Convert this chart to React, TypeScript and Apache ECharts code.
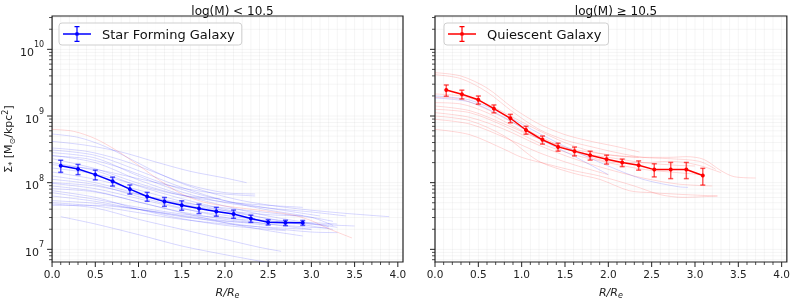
import React, { useEffect, useRef } from 'react';
import * as echarts from 'echarts';

// Mean profiles (R/Re, Σ* in Msun/kpc^2, symmetric error)
const sfR = [0.1, 0.3, 0.5, 0.7, 0.9, 1.1, 1.3, 1.5, 1.7, 1.9, 2.1, 2.3, 2.5, 2.7, 2.9];
const sfSigma = [1.8e8, 1.6e8, 1.32e8, 1.05e8, 8.0e7, 6.2e7, 5.2e7, 4.6e7, 4.1e7, 3.7e7, 3.4e7, 2.9e7, 2.55e7, 2.5e7, 2.5e7];
const sfErr = [3.7e7, 2.8e7, 2.2e7, 1.6e7, 1.25e7, 9.4e6, 7.9e6, 7.4e6, 6.6e6, 5.6e6, 4.8e6, 3.6e6, 2.3e6, 2.3e6, 2.1e6];

const qR = [0.13, 0.31, 0.5, 0.68, 0.87, 1.05, 1.24, 1.42, 1.61, 1.79, 1.98, 2.16, 2.35, 2.53, 2.72, 2.9, 3.09];
const qSigma = [2.45e9, 2.12e9, 1.75e9, 1.29e9, 9.25e8, 6.17e8, 4.4e8, 3.44e8, 2.97e8, 2.57e8, 2.24e8, 2.0e8, 1.83e8, 1.57e8, 1.58e8, 1.58e8, 1.28e8];
const qErr = [4.7e8, 3.2e8, 2.45e8, 1.75e8, 1.34e8, 8.4e7, 6.1e7, 4.7e7, 4.5e7, 3.9e7, 3.4e7, 2.6e7, 2.9e7, 3.5e7, 4.3e7, 4.3e7, 3.6e7];

// Individual galaxy profiles: [R/Re, log10 Σ*]
const lowBlueProfiles: number[][][] = [
  [[0, 8.73], [0.3, 8.68], [0.6, 8.55], [0.9, 8.36], [1.2, 8.16], [1.5, 7.99], [1.8, 7.86], [2.2, 7.73], [2.7, 7.63], [3.3, 7.55], [3.9, 7.49]],
  [[0, 8.62], [0.4, 8.56], [0.8, 8.46], [1.2, 8.31], [1.6, 8.17], [2.0, 8.07], [2.25, 8.0]],
  [[0, 8.52], [0.4, 8.47], [0.8, 8.34], [1.2, 8.15], [1.6, 7.96], [2.0, 7.85], [2.35, 7.83]],
  [[0, 8.49], [0.5, 8.41], [1.0, 8.18], [1.5, 7.93], [2.0, 7.73], [2.5, 7.59], [3.0, 7.48], [3.25, 7.36]],
  [[0, 8.45], [0.5, 8.37], [1.0, 8.1], [1.5, 7.86], [2.0, 7.7], [2.5, 7.62], [3.0, 7.56], [3.4, 7.5]],
  [[0, 8.41], [0.5, 8.3], [1.0, 8.04], [1.5, 7.82], [2.0, 7.65], [2.5, 7.5], [3.0, 7.39], [3.3, 7.33]],
  [[0, 8.36], [0.5, 8.21], [1.0, 7.99], [1.5, 7.81], [2.0, 7.71], [2.5, 7.66], [2.9, 7.63]],
  [[0, 8.3], [0.5, 8.18], [1.0, 7.95], [1.5, 7.76], [2.0, 7.6], [2.5, 7.46], [3.0, 7.35], [3.25, 7.3]],
  [[0, 8.22], [0.5, 8.13], [1.0, 7.96], [1.5, 7.81], [1.95, 7.76]],
  [[0, 8.16], [0.5, 8.05], [1.0, 7.89], [1.5, 7.72], [2.0, 7.58], [2.5, 7.46], [3.0, 7.38], [3.2, 7.34]],
  [[0, 8.1], [0.5, 8.0], [1.0, 7.83], [1.5, 7.68], [2.0, 7.58], [2.5, 7.52], [2.9, 7.5]],
  [[0, 8.05], [0.5, 7.97], [1.0, 7.79], [1.5, 7.62], [2.0, 7.48], [2.5, 7.38], [3.0, 7.3]],
  [[0, 7.99], [0.5, 7.91], [1.0, 7.76], [1.5, 7.61], [2.0, 7.51], [2.5, 7.43], [3.0, 7.38], [3.5, 7.35]],
  [[0, 7.95], [0.5, 7.87], [1.0, 7.71], [1.5, 7.55], [2.0, 7.4], [2.5, 7.28], [2.9, 7.2]],
  [[0, 7.91], [0.5, 7.86], [1.0, 7.71], [1.5, 7.56], [2.0, 7.45], [2.5, 7.38], [3.0, 7.33], [3.2, 7.32]],
  [[0, 7.88], [0.5, 7.78], [1.0, 7.6], [1.5, 7.46], [2.0, 7.36], [2.5, 7.3], [2.7, 7.28]],
  [[0, 7.85], [0.5, 7.75], [1.0, 7.63], [1.5, 7.53], [2.0, 7.47], [2.5, 7.42], [3.0, 7.4], [3.3, 7.38]],
  [[0, 7.8], [0.5, 7.72], [1.0, 7.6], [1.5, 7.49], [2.0, 7.42], [2.4, 7.4]],
  [[0, 7.73], [0.5, 7.69], [1.0, 7.6], [1.5, 7.5], [2.0, 7.4], [2.5, 7.32], [3.0, 7.26], [3.3, 7.25]],
  [[0, 7.7], [0.5, 7.65], [1.0, 7.55], [1.5, 7.45], [2.0, 7.38], [2.5, 7.33], [3.0, 7.3]],
  [[0, 7.66], [0.5, 7.66], [1.0, 7.6], [1.5, 7.51], [2.0, 7.43], [2.5, 7.36]],
  [[0, 7.68], [0.5, 7.62], [1.0, 7.45], [1.5, 7.3], [2.0, 7.15], [2.4, 7.03], [2.65, 6.97]],
  [[0.1, 7.49], [0.5, 7.38], [1.0, 7.22], [1.5, 7.05], [2.0, 6.92], [2.5, 6.8]],
  [[0, 8.27], [0.5, 8.2], [1.0, 8.06], [1.5, 7.92], [1.9, 7.84], [2.35, 7.8]],
  [[0, 8.4], [0.4, 8.36], [0.8, 8.22], [1.2, 8.03], [1.6, 7.86], [2.0, 7.73], [2.4, 7.64], [2.8, 7.56], [3.1, 7.5]],
  [[0, 8.0], [0.5, 7.95], [1.0, 7.82], [1.5, 7.7], [2.0, 7.62], [2.5, 7.55], [3.0, 7.48], [3.25, 7.42]],
];
const lowRedProfiles: number[][][] = [
  [[0, 8.8], [0.25, 8.77], [0.5, 8.66], [0.75, 8.48], [1.0, 8.26], [1.25, 8.03], [1.5, 7.83], [1.75, 7.71], [2.0, 7.65], [2.5, 7.57], [2.8, 7.51], [3.0, 7.43], [3.2, 7.31], [3.47, 7.17]],
];
const highRedProfiles: number[][][] = [
  [[0, 9.65], [0.3, 9.6], [0.6, 9.42], [0.9, 9.12], [1.2, 8.88], [1.5, 8.72], [1.8, 8.62], [2.1, 8.54], [2.36, 8.46]],
  [[0, 9.62], [0.3, 9.56], [0.6, 9.36], [0.9, 9.06], [1.2, 8.8], [1.5, 8.64], [1.8, 8.54], [2.1, 8.45], [2.4, 8.38], [2.7, 8.36], [3.05, 8.32], [3.24, 8.2]],
  [[0, 9.33], [0.3, 9.3], [0.6, 9.18], [0.9, 8.98], [1.2, 8.78], [1.5, 8.6], [1.8, 8.47], [2.1, 8.4], [2.4, 8.38], [2.7, 8.38], [2.9, 8.39], [3.1, 8.35], [3.3, 8.18], [3.45, 8.09], [3.7, 8.07]],
  [[0, 9.28], [0.3, 9.25], [0.6, 9.1], [0.9, 8.9], [1.2, 8.7], [1.5, 8.52], [1.8, 8.38], [2.1, 8.3], [2.4, 8.3], [2.7, 8.32], [2.9, 8.3], [3.1, 8.24], [3.3, 8.15]],
  [[0, 9.05], [0.4, 8.98], [0.8, 8.8], [1.2, 8.56], [1.6, 8.36], [2.0, 8.2], [2.4, 8.07], [2.8, 7.98], [3.2, 7.95]],
  [[0, 9.0], [0.4, 8.93], [0.8, 8.7], [1.2, 8.32], [1.6, 8.14], [1.9, 8.05], [2.24, 7.88], [2.5, 7.85], [2.9, 7.82], [3.26, 7.8]],
  [[0, 8.95], [0.4, 8.88], [0.8, 8.68], [1.2, 8.45], [1.6, 8.27], [2.0, 8.12]],
  [[0, 8.8], [0.4, 8.72], [0.8, 8.5], [1.0, 8.38], [1.32, 8.27], [1.6, 8.18], [1.9, 8.1], [2.3, 7.95], [2.6, 7.82], [2.86, 7.78], [3.26, 7.8]],
  [[0, 9.2], [0.3, 9.18], [0.6, 9.05], [0.9, 8.85], [1.2, 8.66], [1.5, 8.52], [1.8, 8.42], [2.1, 8.36], [2.4, 8.3], [2.8, 8.26], [3.0, 8.25]],
  [[0, 9.15], [0.4, 9.08], [0.8, 8.88], [1.2, 8.66], [1.6, 8.5], [2.0, 8.42], [2.35, 8.38]],
  [[0, 9.1], [0.4, 9.05], [0.8, 8.85], [1.2, 8.6], [1.6, 8.42], [2.0, 8.3], [2.4, 8.2], [2.8, 8.15], [3.1, 8.12]],
];
const highBlueProfiles: number[][][] = [
  [[0, 9.3], [0.4, 9.24], [0.8, 9.02], [1.2, 8.74], [1.6, 8.48], [2.0, 8.25], [2.4, 8.05], [2.8, 7.94], [2.92, 7.93]],
  [[0, 9.27], [0.4, 9.21], [0.8, 8.98], [1.2, 8.66], [1.6, 8.4], [2.0, 8.12]],
];

const titles = ['log(M) < 10.5', 'log(M) \u2265 10.5'];
const legendNames = ['Star Forming Galaxy', 'Quiescent Galaxy'];
const xMajorTicks = [0, 0.5, 1.0, 1.5, 2.0, 2.5, 3.0, 3.5, 4.0];
const yMajorExps = [7, 8, 9, 10];

const X_MAX = 4.06;
const Y_MIN = 6.81;
const Y_MAX = 10.5;
const FONT = 'DejaVu Sans';
const BLUE = '#0000ff';
const RED = '#ff0000';

const GRIDS = [
  { left: 52, top: 16, width: 351, height: 252 },
  { left: 435, top: 16, width: 352, height: 252 },
];

const legendIcon =
  'path://M0 7.25L28 7.25L28 8.75L0 8.75Z' +
  'M13.4 0L14.6 0L14.6 16L13.4 16Z' +
  'M11.5 0L16.5 0L16.5 1.2L11.5 1.2Z' +
  'M11.5 14.8L16.5 14.8L16.5 16L11.5 16Z' +
  'M12 8A2 2 0 0 1 16 8A2 2 0 0 1 12 8Z';

function minorXTicks(): number[] {
  const out: number[] = [];
  for (let i = 0; i <= 40; i++) {
    if (i % 5 !== 0) out.push(i / 10);
  }
  return out;
}
function minorYTicks(): number[] {
  const out: number[] = [];
  for (let e = 6; e <= 10; e++) {
    for (let k = 2; k <= 9; k++) {
      const v = e + Math.log10(k);
      if (v > Y_MIN && v < Y_MAX) out.push(v);
    }
  }
  return out;
}

function frameRender() {
  return (_params: any, api: any) => {
    const children: any[] = [];
    const gridStyle = { stroke: 'rgba(0,0,0,0.045)', lineWidth: 1 };
    const tickStyle = { stroke: '#222', lineWidth: 1 };
    const minTickStyle = { stroke: '#222', lineWidth: 0.8 };
    const xs = [...xMajorTicks.map((v) => [v, 1]), ...minorXTicks().map((v) => [v, 0])];
    xs.forEach(([v, major]) => {
      const b = api.coord([v, Y_MIN]);
      const t = api.coord([v, Y_MAX]);
      children.push({ type: 'line', shape: { x1: b[0], y1: b[1], x2: t[0], y2: t[1] }, style: gridStyle, silent: true });
      children.push({ type: 'line', shape: { x1: b[0], y1: b[1], x2: b[0], y2: b[1] + (major ? 5 : 3) }, style: major ? tickStyle : minTickStyle, silent: true });
    });
    const ys = [...yMajorExps.map((v) => [v, 1]), ...minorYTicks().map((v) => [v, 0])];
    ys.forEach(([v, major]) => {
      const l = api.coord([0, v]);
      const r = api.coord([X_MAX, v]);
      children.push({ type: 'line', shape: { x1: l[0], y1: l[1], x2: r[0], y2: r[1] }, style: gridStyle, silent: true });
      children.push({ type: 'line', shape: { x1: l[0] - (major ? 5 : 3), y1: l[1], x2: l[0], y2: l[1] }, style: major ? tickStyle : minTickStyle, silent: true });
    });
    return { type: 'group', children };
  };
}

function errRender(color: string) {
  return (_params: any, api: any) => {
    const x = api.value(0);
    const lo = api.coord([x, api.value(1)]);
    const hi = api.coord([x, api.value(2)]);
    const cw = 2.5;
    const style = { stroke: color, lineWidth: 1.5, opacity: 0.65 };
    return {
      type: 'group',
      children: [
        { type: 'line', shape: { x1: lo[0], y1: lo[1], x2: hi[0], y2: hi[1] }, style },
        { type: 'line', shape: { x1: lo[0] - cw, y1: lo[1], x2: lo[0] + cw, y2: lo[1] }, style },
        { type: 'line', shape: { x1: hi[0] - cw, y1: hi[1], x2: hi[0] + cw, y2: hi[1] }, style },
      ],
    };
  };
}

function thinSeries(profiles: number[][][], color: string, gi: number, tag: string) {
  return profiles.map((p, i) => ({
    name: `${tag}-${i}`,
    type: 'line',
    xAxisIndex: gi,
    yAxisIndex: gi,
    data: p,
    symbol: 'none',
    smooth: 0.3,
    silent: true,
    z: 2,
    lineStyle: { color, width: 0.8, opacity: 0.2 },
    emphasis: { disabled: true },
  }));
}

function meanSeries(name: string, rs: number[], sig: number[], err: number[], color: string, gi: number) {
  return [
    {
      name: name + ' err',
      type: 'custom',
      xAxisIndex: gi,
      yAxisIndex: gi,
      renderItem: errRender(color),
      encode: { x: 0, y: [1, 2] },
      data: rs.map((r, i) => [r, Math.log10(sig[i] - err[i]), Math.log10(sig[i] + err[i])]),
      silent: true,
      z: 4,
    },
    {
      name,
      type: 'line',
      xAxisIndex: gi,
      yAxisIndex: gi,
      data: rs.map((r, i) => [r, Math.log10(sig[i])]),
      symbol: 'circle',
      symbolSize: 4,
      showSymbol: true,
      itemStyle: { color },
      lineStyle: { color, width: 1.5 },
      z: 5,
      silent: true,
    },
  ];
}

const yLabelFormatter = (v: number) => {
  const r = Math.round(v);
  if (Math.abs(v - r) > 1e-6) return '';
  return `{b|10}{e|${r}}`;
};

export default function App() {
  const ref = useRef<HTMLDivElement>(null);
  useEffect(() => {
    if (!ref.current) return;
    const chart = echarts.init(ref.current, undefined, { renderer: 'svg' });
    const option: any = {
      animation: false,
      textStyle: { fontFamily: FONT },
      title: titles.map((t, i) => ({
        text: t,
        left: GRIDS[i].left + GRIDS[i].width / 2,
        top: 0,
        textAlign: 'center',
        textStyle: { fontFamily: FONT, fontSize: 12, fontWeight: 'normal', color: '#111' },
      })),
      legend: legendNames.map((n, i) => ({
        data: [{ name: n, icon: legendIcon }],
        left: i === 0 ? 59 : 444,
        top: 23,
        orient: 'vertical',
        itemWidth: 28,
        itemHeight: 16,
        padding: [3, 7, 3, 4],
        backgroundColor: 'rgba(255,255,255,0.85)',
        borderColor: '#cfcfcf',
        borderWidth: 1,
        borderRadius: 3,
        selectedMode: false,
        itemStyle: { borderWidth: 0 },
        textStyle: { fontFamily: FONT, fontSize: 13, color: '#111', padding: [0, 0, 0, 6] },
      })),
      grid: GRIDS.map((g) => ({ ...g, show: true, borderColor: '#222', borderWidth: 1.2, backgroundColor: 'transparent' })),
      xAxis: GRIDS.map((_, i) => ({
        type: 'value',
        gridIndex: i,
        min: 0,
        max: X_MAX,
        interval: 0.5,
        axisLine: { show: false },
        axisTick: { show: false },
        splitLine: { show: false },
        axisLabel: {
          fontFamily: FONT,
          fontSize: 10.5,
          color: '#222',
          margin: 6,
          showMaxLabel: false,
          formatter: (v: number) => (Math.abs(v * 2 - Math.round(v * 2)) < 1e-6 ? v.toFixed(1) : ''),
        },
        name: '{i|R/R}{s|e}',
        nameLocation: 'middle',
        nameGap: 23,
        nameTextStyle: {
          fontFamily: FONT,
          fontSize: 11,
          color: '#222',
          rich: {
            i: { fontFamily: FONT, fontSize: 11, fontStyle: 'italic', color: '#222', lineHeight: 14 },
            s: { fontFamily: FONT, fontSize: 8, fontStyle: 'italic', color: '#222', lineHeight: 8, verticalAlign: 'bottom' },
          },
        },
      })),
      yAxis: GRIDS.map((_, i) => ({
        type: 'value',
        gridIndex: i,
        min: Y_MIN,
        max: Y_MAX,
        axisLine: { show: false },
        axisTick: { show: false },
        splitLine: { show: false },
        axisLabel: {
          show: i === 0,
          margin: 8,
          color: '#222',
          showMinLabel: false,
          showMaxLabel: false,
          formatter: yLabelFormatter,
          rich: {
            b: { fontFamily: FONT, fontSize: 11, color: '#222', lineHeight: 17, verticalAlign: 'bottom' },
            e: { fontFamily: FONT, fontSize: 8, color: '#222', lineHeight: 10, verticalAlign: 'top' },
          },
        },
        name: i === 0 ? '\u03A3{sub|*} [M{sub|\u2299}/kpc{sup|2}]' : '',
        nameLocation: 'middle',
        nameRotate: 90,
        nameGap: 33,
        nameTextStyle: {
          fontFamily: FONT,
          fontSize: 11,
          color: '#222',
          lineHeight: 15,
          rich: {
            sub: { fontFamily: FONT, fontSize: 8, color: '#222', lineHeight: 9, verticalAlign: 'bottom' },
            sup: { fontFamily: FONT, fontSize: 8, color: '#222', lineHeight: 9, verticalAlign: 'top' },
          },
        },
      })),
      series: [
        ...GRIDS.map((_, i) => ({
          name: 'frame' + i,
          type: 'custom',
          xAxisIndex: i,
          yAxisIndex: i,
          renderItem: frameRender(),
          data: [[0, 8]],
          clip: false,
          silent: true,
          z: 1,
        })),
        ...thinSeries(lowBlueProfiles, BLUE, 0, 'lb'),
        ...thinSeries(lowRedProfiles, RED, 0, 'lr'),
        ...thinSeries(highRedProfiles, RED, 1, 'hr'),
        ...thinSeries(highBlueProfiles, BLUE, 1, 'hb'),
        ...meanSeries(legendNames[0], sfR, sfSigma, sfErr, BLUE, 0),
        ...meanSeries(legendNames[1], qR, qSigma, qErr, RED, 1),
      ],
    };
    chart.setOption(option);
    return () => chart.dispose();
  }, []);
  return <div ref={ref} style={{ position: 'fixed', left: 0, top: 0, width: 793, height: 304 }} />;
}
